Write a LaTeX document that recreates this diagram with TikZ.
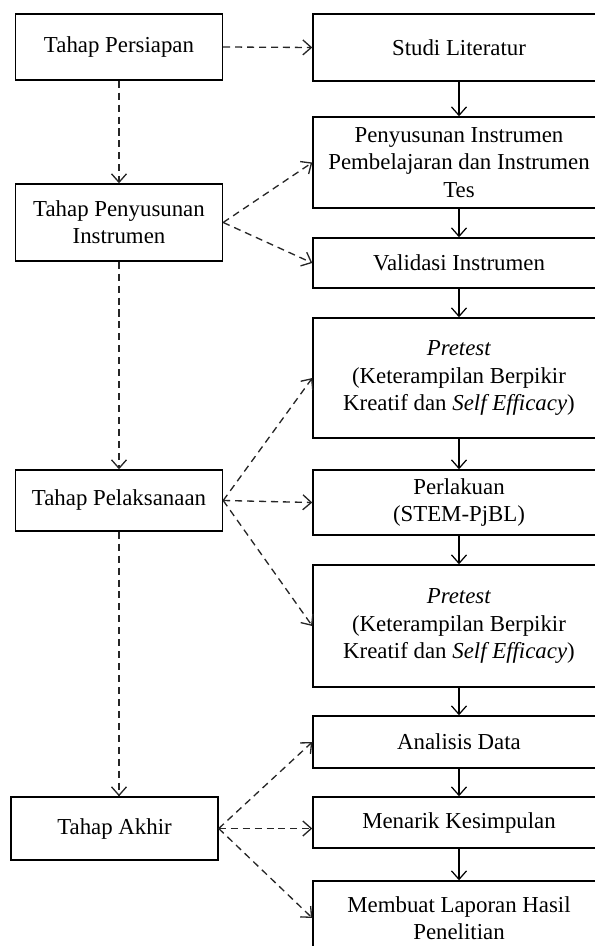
\documentclass[tikz,border=0pt]{standalone}
\usepackage{fontspec}
\setmainfont{Liberation Serif}
\usetikzlibrary{arrows.meta}

\begin{document}
\begin{tikzpicture}[
  tahap/.style={draw, line width=0.8pt, minimum width=4.14cm, align=center, inner sep=2pt},
  kegiatan/.style={draw, line width=0.8pt, minimum width=5.84cm, align=center, inner sep=2pt},
  garis/.style={dash pattern=on 4pt off 2.8pt, line width=0.75pt, black!85, -{Straight Barb[length=1.7mm,width=3mm]}},
  alur/.style={line width=0.7pt, -{Straight Barb[length=1.7mm,width=3mm]}},
  font=\fontsize{13}{15.5}\selectfont]
\useasboundingbox (0,0) rectangle (11.88,-18.92);
% Tahap
\node[tahap, minimum height=1.32cm] (persiapan) at (2.38,-0.94) {Tahap Persiapan};
\node[tahap, minimum height=1.54cm] (penyusunan) at (2.38,-4.45) {Tahap Penyusunan\\Instrumen};
\node[tahap, minimum height=1.22cm] (pelaksanaan) at (2.38,-10.01) {Tahap Pelaksanaan};
\node[tahap, minimum height=1.26cm] (akhir) at (2.29,-16.57) {Tahap Akhir};
% Kegiatan
\node[kegiatan, minimum height=1.34cm] (studi) at (9.18,-0.95) {Studi Literatur};
\node[kegiatan, minimum height=1.82cm] (instrumen) at (9.18,-3.25) {Penyusunan Instrumen\\Pembelajaran dan Instrumen\\Tes};
\node[kegiatan, minimum height=1.0cm] (validasi) at (9.18,-5.26) {Validasi Instrumen};
\node[kegiatan, minimum height=2.4cm] (pretest) at (9.18,-7.56) {\textit{Pretest}\\(Keterampilan Berpikir\\Kreatif dan \textit{Self Efficacy})};
\node[kegiatan, minimum height=1.3cm] (perlakuan) at (9.18,-10.05) {Perlakuan\\(STEM-PjBL)};
\node[kegiatan, minimum height=2.44cm] (posttest) at (9.18,-12.52) {\textit{Pretest}\\(Keterampilan Berpikir\\Kreatif dan \textit{Self Efficacy})};
\node[kegiatan, minimum height=1.04cm] (analisis) at (9.18,-14.84) {Analisis Data};
\node[kegiatan, minimum height=1.02cm] (kesimpulan) at (9.18,-16.45) {Menarik Kesimpulan};
\node[kegiatan, minimum height=1.48cm] (laporan) at (9.18,-18.36) {Membuat Laporan Hasil\\Penelitian};
% Alur tahap
\draw[garis] (persiapan) -- (penyusunan);
\draw[garis] (penyusunan) -- (pelaksanaan);
\draw[garis] (pelaksanaan.south) -- (pelaksanaan.south |- akhir.north);
% Tahap ke kegiatan
\draw[garis] (persiapan.east) -- (studi.west);
\draw[garis] (penyusunan.east) -- (instrumen.west);
\draw[garis] (penyusunan.east) -- (validasi.west);
\draw[garis] (pelaksanaan.east) -- (pretest.west);
\draw[garis] (pelaksanaan.east) -- (perlakuan.west);
\draw[garis] (pelaksanaan.east) -- (posttest.west);
\draw[garis] (akhir.east) -- (analisis.west);
\draw[garis] (akhir.east) -- (akhir.east -| kesimpulan.west);
\draw[garis] (akhir.east) -- (laporan.west);
% Alur kegiatan
\draw[alur] (studi) -- (instrumen);
\draw[alur] (instrumen) -- (validasi);
\draw[alur] (validasi) -- (pretest);
\draw[alur] (pretest) -- (perlakuan);
\draw[alur] (perlakuan) -- (posttest);
\draw[alur] (posttest) -- (analisis);
\draw[alur] (analisis) -- (kesimpulan);
\draw[alur] (kesimpulan) -- (laporan);
\end{tikzpicture}
\end{document}
